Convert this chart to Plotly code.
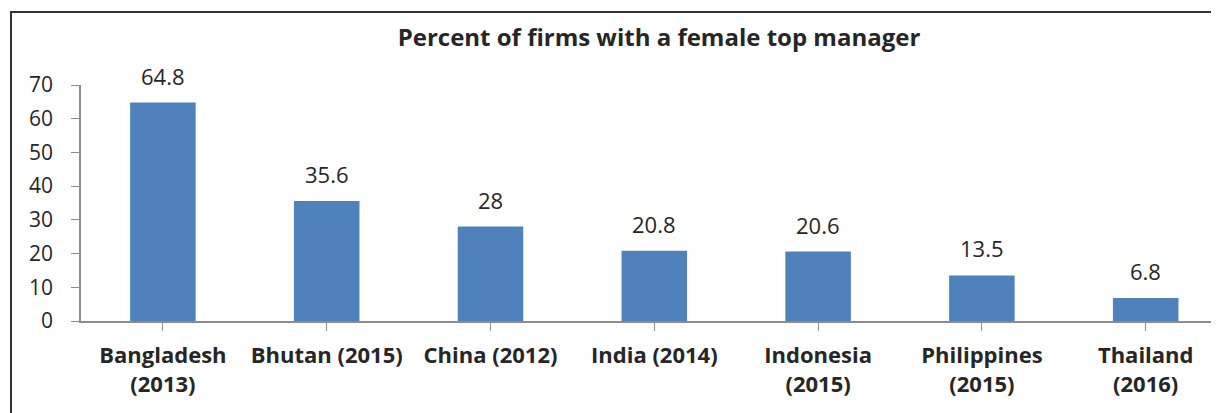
import plotly.graph_objects as go

categories = ["Bangladesh<br>(2013)", "Bhutan (2015)", "China (2012)", "India (2014)",
              "Indonesia<br>(2015)", "Philippines<br>(2015)", "Thailand<br>(2016)"]
values = [64.8, 35.6, 28, 20.8, 20.6, 13.5, 6.8]
y_ticks = [0, 10, 20, 30, 40, 50, 60, 70]
title_text = "Percent of firms with a female top manager"

OFF = 8  # default page body margin
W, H = 1219 - OFF, 413 - OFF
ML, MR, MT, MB = 81 - OFF, 0, 85 - OFF, 92
FONT = "Open Sans"
TXT = "#262626"
AX = "#8c8c8c"

fig = go.Figure()
fig.add_trace(go.Bar(x=list(range(len(categories))), y=values, width=0.4,
                     marker=dict(color="#4F81BD", line=dict(width=0)),
                     hoverinfo="skip"))

for i, v in enumerate(values):
    fig.add_annotation(x=i, y=v, text=f"{v:g}", showarrow=False, yanchor="middle",
                       yshift=27, font=dict(family=FONT, size=22, color=TXT))

pw = W - ML - MR
ph = H - MT - MB
fig.add_shape(type="rect", xref="paper", yref="paper",
              x0=(11 - OFF - ML) / pw, x1=(W + 20 - ML) / pw,
              y0=-(H + 20 - (MT + ph)) / ph, y1=(MT + ph - (12 - OFF)) / ph,
              line=dict(color="#333333", width=2), fillcolor="rgba(0,0,0,0)", layer="above")

fig.update_layout(
    width=W, height=H,
    margin=dict(l=ML, r=MR, t=MT, b=MB, pad=0),
    paper_bgcolor="white", plot_bgcolor="white",
    showlegend=False,
    title=dict(text=f"<b>{title_text}</b>", x=(659 - OFF) / W, xanchor="center",
               y=1 - (38 - OFF) / H, yanchor="middle", yref="container",
               font=dict(family=FONT, size=24, color=TXT)),
    xaxis=dict(tickmode="array", tickvals=list(range(len(categories))), ticktext=[f"<b>{c}</b>" for c in categories],
               range=[-0.5, pw / 163.8 - 0.5], tickson="boundaries",
               ticks="outside", ticklen=8, tickcolor=AX, showline=True, linecolor=AX, linewidth=1.5,
               showgrid=False, zeroline=False, automargin=False, ticklabelstandoff=6,
               tickfont=dict(family=FONT, size=22, color=TXT)),
    yaxis=dict(range=[0, 70], tickmode="array", tickvals=y_ticks,
               ticks="outside", ticklen=8, tickcolor=AX, showline=True, linecolor=AX, linewidth=1.5,
               showgrid=False, zeroline=False, automargin=False, ticklabelstandoff=14,
               tickfont=dict(family=FONT, size=21, color=TXT)),
)

fig.write_html("out.html")
